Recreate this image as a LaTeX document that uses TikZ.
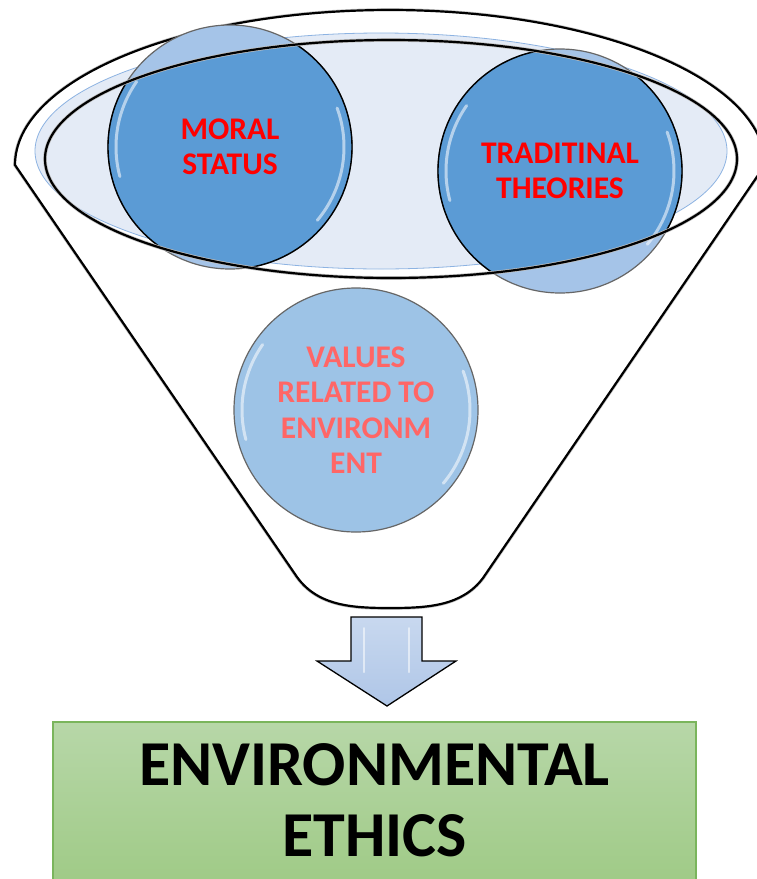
\documentclass[tikz,border=0pt]{standalone}
\usepackage{fontspec}
\setmainfont{Carlito}
\usetikzlibrary{calc}
\definecolor{balldark}{HTML}{5B9BD5}
\definecolor{balllight}{HTML}{A5C4E8}
\definecolor{valuesfill}{HTML}{9DC3E6}
\definecolor{rimfill}{HTML}{E4EBF6}
\definecolor{rimblue}{HTML}{8DB3E2}
\definecolor{valuesred}{HTML}{FF6666}
\definecolor{arrowtop}{HTML}{C8D8EF}
\definecolor{arrowbot}{HTML}{AFC6E7}
\definecolor{boxtop}{HTML}{B7D7A8}
\definecolor{boxbot}{HTML}{9DC983}
\definecolor{boxline}{HTML}{7AB55C}
\tikzset{
  funnelline/.style={draw=black,line width=2.2pt,preaction={draw=black!25,line width=3.6pt}},
  balltext/.style={align=center,font=\fontsize{31.5}{35.5}\selectfont\bfseries},
  gloss/.style={white,line width=3pt,opacity=0.55,line cap=round},
}
\begin{document}
\begin{tikzpicture}[x=1pt,y=-1pt]
    \path[use as bounding box] (0,0) rectangle (757,879);
    \clip (0,0) rectangle (757,879);

    \path[funnelline,fill=white] (15,165)
      arc[start angle=180,end angle=360,x radius=375,y radius=155]
      -- (483,578) .. controls (462,606) and (428,608) .. (390,608)
      .. controls (352,608) and (318,606) .. (297,577) -- cycle;

    \filldraw[fill=rimfill,draw=rimblue,line width=0.8pt] (381,151) ellipse[x radius=346,y radius=118];

    \coordinate (moral-c) at (230,147);
    \coordinate (theory-c) at (560,171);
    \coordinate (values-c) at (356,410);

    \foreach \c in {moral-c,theory-c}
      \filldraw[fill=balllight,draw=black!60,line width=1.2pt] (\c) circle (122);
    \begin{scope}
      \clip (391,159) ellipse[x radius=346,y radius=119];
      \foreach \c in {moral-c,theory-c}
        \filldraw[fill=balldark,draw=black,line width=1.4pt] (\c) circle (122);
    \end{scope}
    \filldraw[fill=valuesfill,draw=black!60,line width=1.2pt] (values-c) circle (122);

    \foreach \c in {moral-c,theory-c,values-c} {
      \draw[gloss] (\c) ++(165:114) arc[start angle=165,end angle=215,radius=114];
      \draw[gloss] (\c) ++(-20:114) arc[start angle=-20,end angle=40,radius=114];
    }

    \draw[funnelline] (391,159) ellipse[x radius=346,y radius=119];

    \node[balltext,red] (moral) at (moral-c) {MORAL\\STATUS};
    \node[balltext,red] (theory) at (theory-c) {TRADITINAL\\THEORIES};
    \node[balltext,valuesred] (values) at (values-c) {VALUES\\RELATED TO\\ENVIRONM\\ENT};

    \shade[top color=arrowtop,bottom color=arrowbot,draw=black,line width=1.3pt]
      (351,617) -- (422,617) -- (422,661) -- (456,661) -- (387,706) -- (317,661) -- (351,661) -- cycle;
    \draw[gloss,line width=2pt] (364,628) -- (364,672) (409,628) -- (409,672);

    \shade[top color=boxtop,bottom color=boxbot,draw=boxline,line width=1.2pt] (53,722) rectangle (696,900);
    \node[font=\fontsize{64}{71}\selectfont\bfseries,align=center] (ethics) at (374.5,800) {ENVIRONMENTAL\\ETHICS};
\end{tikzpicture}
\end{document}
